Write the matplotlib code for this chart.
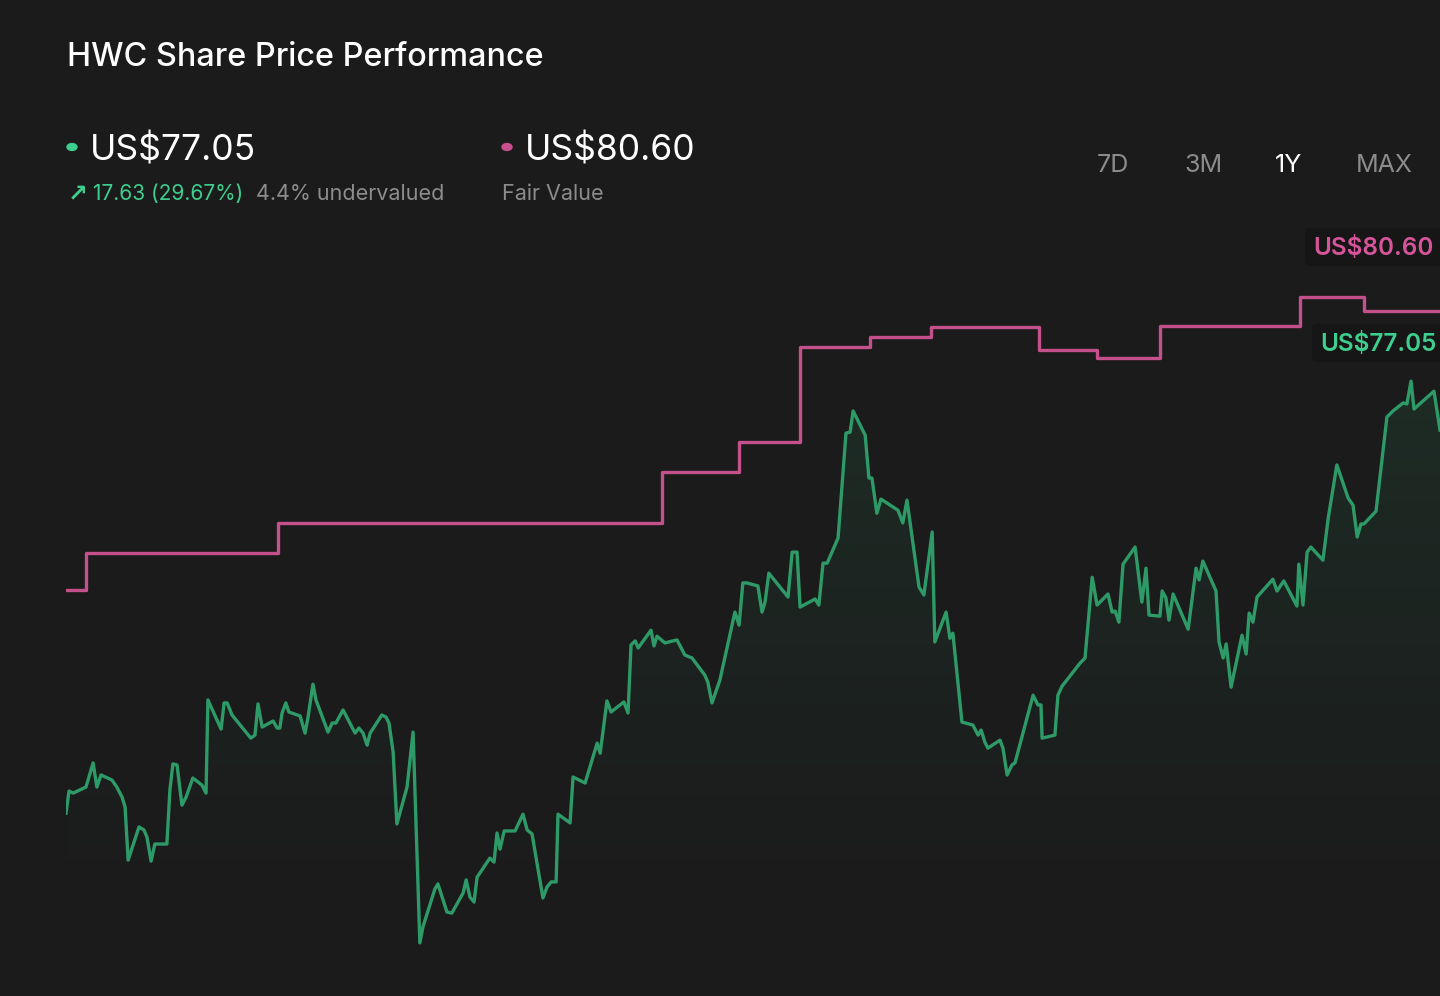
import numpy as np
import matplotlib
matplotlib.use("Agg")
import matplotlib.pyplot as plt
from matplotlib.patches import Polygon, FancyBboxPatch, Circle

plt.rcParams['font.family'] = ['Inter', 'DejaVu Sans']

# price history, days from start of the 1Y window
days = [0, 0.8, 1.9, 5.3, 7.2, 8.2, 9.3, 12.2, 13.5, 14.9, 15.7, 16.5, 19.4, 20.7, 21.5,
        22.6, 23.6, 26.8, 27.6, 28.4, 29.5, 30.8, 31.9, 33.7, 36.1, 37.2, 37.7, 41.2, 42.0,
        42.8, 44.1, 49.1, 50.2, 51.0, 52.1, 55.0, 56.1, 56.8, 57.4, 58.4, 59.2, 62.2, 63.5,
        64.3, 65.6, 66.4, 69.6, 70.7, 71.7, 73.6, 76.8, 77.8, 78.9, 80.0, 80.8, 83.9, 85.0,
        85.8, 86.9, 87.9, 90.6, 91.1, 92.2, 94.0, 94.8, 98.0, 98.8, 101.2, 102.5, 105.5,
        106.3, 107.3, 108.4, 109.2, 112.6, 113.7, 114.5, 115.3, 116.4, 119.3, 121.4, 122.5,
        123.8, 126.7, 127.8, 128.9, 130.2, 130.7, 133.9, 134.7, 137.9, 141.1, 141.9, 143.7,
        144.8, 148.2, 149.3, 150.1, 151.2, 152.0, 155.4, 156.2, 157.0, 159.1, 162.3, 164.4,
        166.3, 169.7, 170.5, 171.6, 173.7, 177.7, 178.8, 179.8, 180.9, 183.8, 184.9, 185.7,
        186.7, 191.8, 192.9, 194.2, 195.0, 199.0, 200.0, 201.1, 202.2, 205.1, 207.2, 208.3,
        209.1, 212.3, 213.3, 214.1, 215.4, 216.5, 221.0, 222.3, 223.4, 226.6, 227.9, 230.1,
        230.8, 233.8, 234.8, 235.6, 238.0, 240.9, 242.3, 243.1, 244.1, 244.9, 248.1, 248.9,
        250.0, 251.3, 252.1, 256.9, 258.2, 259.0, 259.3, 262.7, 263.5, 264.6, 269.4, 270.7,
        272.6, 273.9, 276.8, 277.9, 278.7, 279.7, 280.8, 284.0, 285.8, 286.9, 287.7, 290.6,
        291.2, 292.2, 293.0, 294.1, 298.1, 300.2, 301.0, 302.0, 305.5, 306.3, 307.4, 308.2,
        309.5, 312.4, 313.5, 314.3, 315.3, 316.4, 320.6, 321.7, 323.5, 327.0, 327.5, 328.6,
        329.7, 330.7, 333.9, 335.3, 337.6, 340.6, 341.9, 343.0, 344.0, 344.8, 348.0, 350.9,
        352.5, 355.2, 356.2, 357.3, 358.1, 363.4, 365.0]
price = [65.62, 66.28, 66.22, 66.40, 67.12, 66.40, 66.76, 66.61, 66.40, 66.10, 65.80, 64.22,
         65.21, 65.12, 64.91, 64.19, 64.70, 64.70, 66.31, 67.09, 67.06, 65.86, 66.10, 66.67,
         66.46, 66.22, 69.00, 68.13, 68.91, 68.91, 68.55, 67.86, 67.95, 68.88, 68.19, 68.37,
         68.16, 68.16, 68.61, 68.91, 68.64, 68.52, 68.01, 68.49, 69.47, 69.00, 68.04, 68.31,
         68.31, 68.70, 68.01, 68.16, 68.01, 67.65, 68.01, 68.55, 68.49, 68.31, 67.44, 65.30,
         66.40, 66.91, 68.04, 61.75, 62.22, 63.36, 63.51, 62.67, 62.64, 63.24, 63.63, 63.12,
         62.97, 63.71, 64.28, 64.16, 65.03, 64.55, 65.09, 65.09, 65.59, 65.12, 65.00, 63.09,
         63.42, 63.57, 63.57, 65.59, 65.33, 66.70, 66.52, 67.71, 67.41, 68.97, 68.64, 68.94,
         68.61, 70.64, 70.76, 70.55, 71.08, 70.61, 70.90, 70.70, 70.79, 70.34, 70.25, 69.74,
         69.53, 68.91, 69.59, 71.62, 71.23, 72.49, 72.49, 72.40, 71.62, 71.92, 72.78, 72.07,
         73.41, 73.41, 71.77, 72.01, 71.83, 73.08, 73.08, 73.83, 76.96, 76.99, 77.62, 76.90,
         75.62, 75.62, 74.57, 74.99, 74.66, 74.28, 74.96, 72.37, 72.13, 74.01, 70.73, 71.62,
         70.84, 70.99, 68.34, 68.25, 67.95, 68.10, 67.74, 67.56, 67.80, 67.56, 66.76, 67.06,
         67.12, 69.14, 68.85, 68.85, 67.86, 67.95, 69.14, 69.41, 70.10, 70.25, 72.66, 71.83,
         72.16, 71.62, 71.65, 71.32, 73.05, 73.56, 71.92, 72.93, 71.53, 71.50, 72.25, 72.04,
         71.38, 72.16, 71.11, 72.93, 72.58, 73.14, 72.25, 70.73, 70.25, 70.67, 69.38, 70.93,
         70.37, 71.59, 71.32, 72.07, 72.60, 72.25, 72.55, 71.80, 73.05, 71.83, 73.41, 73.56,
         73.17, 74.42, 76.01, 75.02, 74.81, 73.86, 74.25, 74.25, 74.63, 77.44, 77.62, 77.86,
         77.83, 78.51, 77.68, 78.21, 77.05]

# fair value estimate, step changes
fv_days = [0, 5.3, 56.3, 158.3, 178.8, 195.0, 213.6, 229.8, 258.5, 273.9, 290.6, 327.8, 344.8, 365]
fv_vals = [72.28, 73.38, 74.28, 75.80, 76.69, 79.53, 79.82, 80.12, 79.44, 79.20, 80.15, 81.02, 80.60, 80.60]

BG = '#1b1b1b'
GREEN = '#2e9a68'
GREEN_TXT = '#3ecf8e'
PINK = '#c4508c'
GREY = '#8c8c8c'

W, H = 1440, 996
fig = plt.figure(figsize=(W / 100, H / 100), dpi=100)
fig.patch.set_facecolor(BG)


def px(x, y):
    return x / W, 1 - y / H


# chart area spans pixel rows 230..960
ax = fig.add_axes([66 / W, 36 / H, 1 - 66 / W, 730 / H])
ax.set_facecolor(BG)
ax.set_xlim(0, 365)
ax.set_ylim(61.24, 83.02)
ax.axis('off')

# gradient under the price line
grad = np.linspace(0, 1, 256)
rgba = np.zeros((256, 1, 4))
rgba[:, 0, :3] = matplotlib.colors.to_rgb('#2e9a68')
rgba[:, 0, 3] = 0.14 * grad ** 1.1
img = ax.imshow(rgba, extent=[0, 365, 62.5, 78.5], origin='lower', aspect='auto', zorder=1)
poly = Polygon(np.column_stack([np.r_[days[0], days, days[-1]],
                                np.r_[61.24, price, 61.24]]),
               closed=True, transform=ax.transData, facecolor='none', edgecolor='none')
ax.add_patch(poly)
img.set_clip_path(poly)

ax.plot(days, price, color=GREEN, lw=2.4, zorder=3)
ax.step(fv_days, fv_vals, where='post', color=PINK, lw=2.4, zorder=3)

# right-hand value tags (they run off the right edge, as in the app)
for x0, y0, txt, col in [(1305, 228, 'US$80.60', '#d6559a'), (1312, 324, 'US$77.05', GREEN_TXT)]:
    fig.patches.append(FancyBboxPatch(px(x0, y0 + 38), (W - x0 + 10) / W, 38 / H,
                                      boxstyle='round,pad=0,rounding_size=0.004',
                                      transform=fig.transFigure, facecolor='#161616',
                                      edgecolor='none', zorder=5))
    fig.text(*px(x0 + 8, y0 + 20), txt, color=col, fontsize=17.5, fontweight='semibold',
             va='center', ha='left', zorder=6)

# header
fig.text(*px(67, 57), 'HWC Share Price Performance', color='white', fontsize=23.3,
         fontweight='medium', va='center', ha='left')

fig.patches.append(Circle(px(72, 147), 5 / W, transform=fig.transFigure, color=GREEN_TXT))
fig.text(*px(90, 151), 'US$77.05', color='white', fontsize=25.5, va='center', ha='left')
fig.text(*px(68, 194), '↗', color=GREEN_TXT, fontsize=17, fontweight='bold', va='center',
         ha='left', family=['DejaVu Sans'])
fig.text(*px(93, 194), '17.63 (29.67%)', color=GREEN_TXT, fontsize=15, va='center', ha='left')
fig.text(*px(256, 194), '4.4% undervalued', color=GREY, fontsize=15.5, va='center', ha='left')

fig.patches.append(Circle(px(507, 147), 5 / W, transform=fig.transFigure, color='#c9508f'))
fig.text(*px(525, 151), 'US$80.60', color='white', fontsize=25.5, va='center', ha='left')
fig.text(*px(502, 194), 'Fair Value', color=GREY, fontsize=15.5, va='center', ha='left')

for xc, lab in [(1113, '7D'), (1203, '3M'), (1289, '1Y'), (1384, 'MAX')]:
    fig.text(*px(xc, 166), lab, color='white' if lab == '1Y' else GREY, fontsize=18,
             va='center', ha='center')

fig.savefig('out.png', dpi=100, facecolor=BG)
